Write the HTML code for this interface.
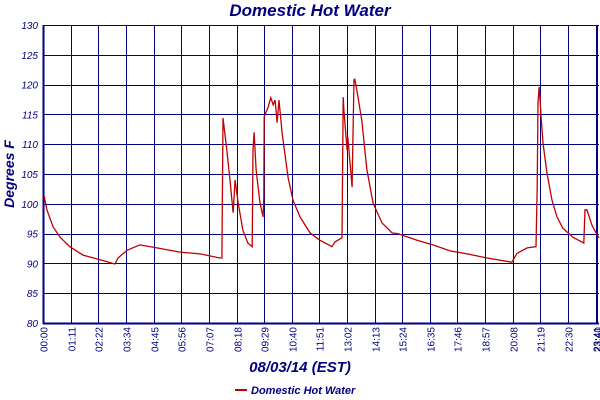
<!DOCTYPE html>
<html><head><meta charset="utf-8"><style>
body{margin:0;background:#fff;}
svg{display:block;font-family:"Liberation Sans",sans-serif;}
</style></head><body>
<svg id="chart" width="600" height="400" xmlns="http://www.w3.org/2000/svg">
<text x="310" y="16" text-anchor="middle" font-size="17" font-weight="bold" font-style="italic" fill="#000080">Domestic Hot Water</text>
<text transform="translate(14,174) rotate(-90)" text-anchor="middle" font-size="14" font-weight="bold" font-style="italic" fill="#000080">Degrees F</text>
<text x="300" y="372" text-anchor="middle" font-size="15" font-weight="bold" font-style="italic" fill="#000080">08/03/14 (EST)</text>
<g id="grid"></g>
<g id="ticks"></g>
<path id="series" fill="none" stroke="#c00000" stroke-width="1.3"/>
<g>
<line x1="235" y1="390" x2="247" y2="390" stroke="#c00000" stroke-width="2"/>
<text x="251" y="394" font-size="11" font-weight="bold" font-style="italic" fill="#000080">Domestic Hot Water</text>
</g>
</svg>
<script>
const yTicks=[80,85,90,95,100,105,110,115,120,125,130];
const xTickMinutes=[0,71,142,214,285,356,427,498,569,640,711,782,853,924,995,1066,1137,1208,1279,1350,1421,1426];
const xTickLabels=["00:00","01:11","02:22","03:34","04:45","05:56","07:07","08:18","09:29","10:40","11:51","13:02","14:13","15:24","16:35","17:46","18:57","20:08","21:19","22:30","23:41","23:40"];
const minutes=[3,10,26,44,69,103,147,185,193,216,249,293,352,404,455,460,463,473,481,489,494,502,514,527,538,540,543,548,558,566,568,569,579,586,592,597,602,607,615,622,630,643,661,687,712,743,751,769,772,774,782,784,795,797,800,802,807,820,833,849,872,898,913,962,1003,1047,1091,1142,1206,1219,1245,1268,1271,1273,1276,1278,1281,1286,1296,1309,1322,1337,1363,1391,1394,1399,1412,1425,1430];
const temps=[101.3,99,96.1,94.4,92.8,91.4,90.6,89.9,90.9,92.2,93.1,92.6,91.9,91.6,90.9,90.9,114.4,108.9,104,98.5,104,100.1,95.6,93.4,92.8,109,112,105.7,100.1,97.8,101.1,114.6,116.2,117.8,116.6,117.4,113.6,117.4,111.9,108.5,104.5,100.6,97.8,95.1,93.9,92.8,93.6,94.3,117.9,115.7,109,111.2,102.8,110.7,120.8,120.9,119.1,114,105.7,100.1,96.8,95.1,95,93.9,93.1,92.1,91.6,90.9,90.2,91.7,92.6,92.8,102.8,116.9,119.6,117.9,114.6,110.2,105.2,100.6,97.8,95.9,94.4,93.4,99,99,96.4,94.8,94.3];
const L=43,R=599,T=25,B=323,XMAX=1430;
const xs=m=>L+(R-L)*m/XMAX;
const ys=v=>B-(B-T)*(v-80)/50;
const px=v=>Math.round(v)+0.5;
const NS="http://www.w3.org/2000/svg";
const grid=document.getElementById('grid'),ticks=document.getElementById('ticks');
function mk(tag,attrs,parent){const e=document.createElementNS(NS,tag);for(const k in attrs)e.setAttribute(k,attrs[k]);parent.appendChild(e);return e;}
yTicks.forEach(v=>{
 const l=mk('line',{x1:L,x2:R,y1:px(ys(v)),y2:px(ys(v)),stroke:'#000080','stroke-width':1},grid);
 
 
 const t=mk('text',{x:38,y:ys(v)+4,'text-anchor':'end','font-size':10,'font-style':'italic',fill:'#000080'},ticks);
 
 
 t.textContent=v;
});
xTickMinutes.forEach((m,i)=>{
 const x=px(xs(m));
 const l=mk('line',{x1:x,x2:x,y1:T,y2:B,stroke:'#000080','stroke-width':1},grid);
 
 
 const t=mk('text',{transform:`translate(${x+4},327) rotate(-90)`,'text-anchor':'end','font-size':10,fill:'#000080'},ticks);
 
 
 t.textContent=xTickLabels[i];
});
const lb=mk('line',{x1:L+0.5,x2:L+0.5,y1:T,y2:B+1,stroke:'#000080','stroke-width':2},grid);


const xb=mk('line',{x1:L,x2:R,y1:B+0.5,y2:B+0.5,stroke:'#000080','stroke-width':2},grid);


let d='';
minutes.forEach((m,i)=>{d+=(i?'L':'M')+xs(m).toFixed(1)+' '+ys(temps[i]).toFixed(1)+' ';});
document.getElementById('series').setAttribute('d',d);
</script>
</body></html>
